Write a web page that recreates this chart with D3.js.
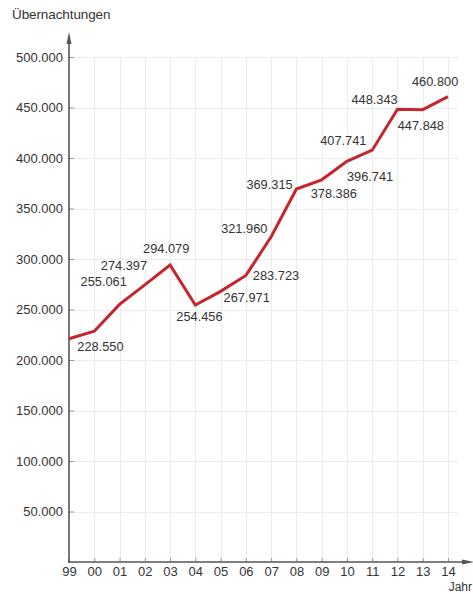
<!DOCTYPE html>
<html>
<head>
<meta charset="utf-8">
<script src="https://cdn.jsdelivr.net/npm/d3@7"></script>
<style>
  html, body { margin: 0; padding: 0; background: #fff; }
  svg { display: block; }
  text { font-family: "Liberation Sans", Arial, sans-serif; fill: #333; }
</style>
</head>
<body>
<svg id="chart" width="473" height="594"></svg>
<script>
// Übernachtungen pro Jahr
const years = ["99", "00", "01", "02", "03", "04", "05", "06", "07", "08", "09", "10", "11", "12", "13", "14"];
const stays = [221000, 228550, 255061, 274397, 294079, 254456, 267971, 283723, 321960, 369315, 378386, 396741, 407741, 448343, 447848, 460800];
const showLabel = [false, true, true, true, true, true, true, true, true, true, true, true, true, true, true, true];
const yTicks = [50000, 100000, 150000, 200000, 250000, 300000, 350000, 400000, 450000, 500000];

// label placement relative to each point (dx = text start, dy = baseline)
const labelOffsets = [
  [0, 0], [-17, 20], [-39, -18], [-44, -15], [-27, -12], [-19, 16],
  [3, 11], [7, 5], [-50, -4], [-50, 0], [-11, 18], [0, 20],
  [-52, -5], [-46, -5], [-25, 20], [-36, -11]
];

const svg = d3.select("#chart");
const plotLeft = 69, plotRight = 448, plotTop = 57, plotBottom = 562;

const x = d3.scaleLinear().domain([0, years.length - 1]).range([plotLeft, plotRight]);
const y = d3.scaleLinear().domain([0, 500000]).range([plotBottom, plotTop]);

const fmt = d3.formatLocale({ decimal: ",", thousands: ".", grouping: [3], currency: ["", "€"] }).format(",d");

// grid
const grid = svg.append("g").attr("stroke", "#ebebeb").attr("stroke-width", 1);
grid.selectAll("line.v").data(years.slice(1)).join("line")
  .attr("x1", (d, i) => Math.round(x(i + 1)) + 0.5).attr("x2", (d, i) => Math.round(x(i + 1)) + 0.5)
  .attr("y1", plotTop).attr("y2", plotBottom);
grid.selectAll("line.h").data(yTicks).join("line")
  .attr("x1", plotLeft).attr("x2", plotRight + 10)
  .attr("y1", d => Math.round(y(d)) + 0.5).attr("y2", d => Math.round(y(d)) + 0.5);

// axes
const axisColor = "#555";
const yAxis = d3.axisLeft(y).tickValues(yTicks).tickSize(-5).tickPadding(6).tickFormat(d => fmt(d));
const gy = svg.append("g").attr("transform", `translate(${plotLeft},0)`).call(yAxis);
gy.select(".domain").remove();
gy.selectAll(".tick line").attr("stroke", "#999");
gy.selectAll(".tick text").attr("font-size", 13).attr("fill", "#333")
  .attr("font-family", '"Liberation Sans", Arial, sans-serif');

const xAxis = d3.axisBottom(x).tickValues(d3.range(years.length))
  .tickSize(-4).tickPadding(5).tickFormat(i => years[i]);
const gx = svg.append("g").attr("transform", `translate(0,${plotBottom})`).call(xAxis);
gx.select(".domain").remove();
gx.selectAll(".tick line").attr("stroke", "#999");
gx.selectAll(".tick text").attr("font-size", 13).attr("fill", "#333")
  .attr("font-family", '"Liberation Sans", Arial, sans-serif');

// axis lines with arrowheads
svg.append("line").attr("x1", plotLeft).attr("x2", plotLeft).attr("y1", plotBottom + 1).attr("y2", 36)
  .attr("stroke", axisColor).attr("stroke-width", 1.6);
svg.append("path").attr("d", `M${plotLeft - 2.5},${44} L${plotLeft},${32} L${plotLeft + 2.5},${44} Z`).attr("fill", axisColor);
svg.append("line").attr("x1", plotLeft - 1).attr("x2", 468).attr("y1", plotBottom).attr("y2", plotBottom)
  .attr("stroke", axisColor).attr("stroke-width", 1.6);
svg.append("path").attr("d", `M${462},${plotBottom - 2.5} L${474},${plotBottom} L${462},${plotBottom + 2.5} Z`).attr("fill", axisColor);

// axis titles
svg.append("text").attr("x", 12).attr("y", 19).attr("font-size", 13.5).attr("letter-spacing", "-0.1")
  .text("Übernachtungen");
svg.append("text").attr("x", 472).attr("y", 591).attr("font-size", 12).attr("text-anchor", "end").text("Jahr");

// data line
const line = d3.line().x((d, i) => x(i)).y(d => y(d));
svg.append("path").datum(stays).attr("d", line)
  .attr("fill", "none").attr("stroke", "#c4262e").attr("stroke-width", 3)
  .attr("stroke-linejoin", "miter");

// value labels
svg.append("g").selectAll("text").data(stays.map((v, i) => ({ v, i })).filter(d => showLabel[d.i])).join("text")
  .attr("x", d => x(d.i) + labelOffsets[d.i][0])
  .attr("y", d => y(d.v) + labelOffsets[d.i][1])
  .attr("font-size", 12.8)
  .text(d => fmt(d.v));
</script>
</body>
</html>
